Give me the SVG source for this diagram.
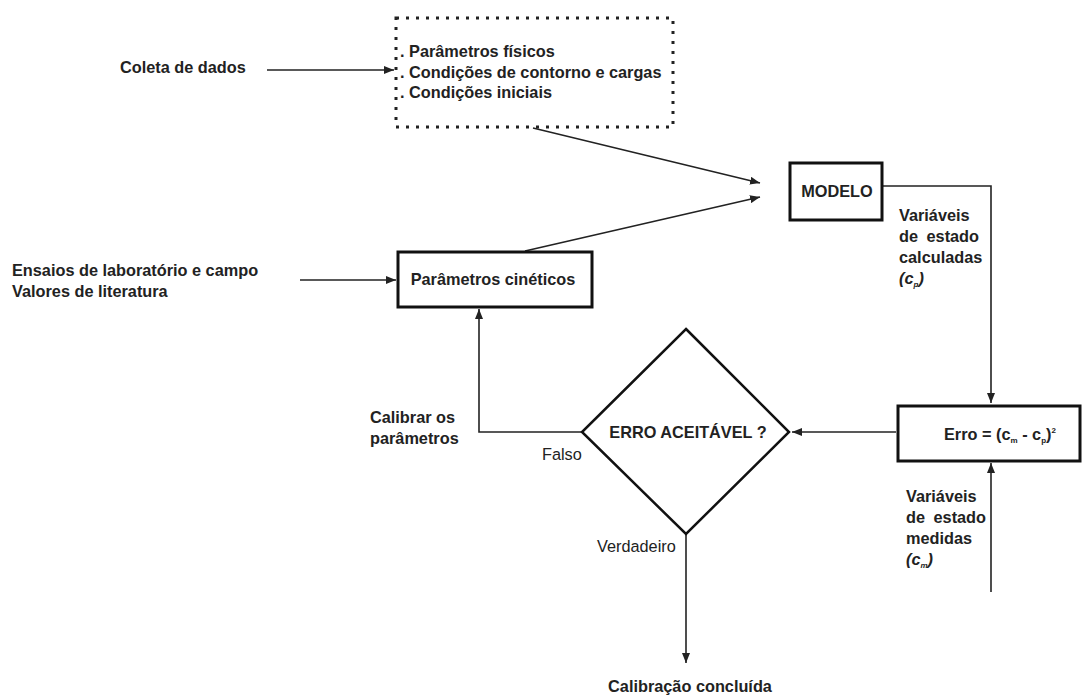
<svg xmlns="http://www.w3.org/2000/svg" width="1083" height="695" viewBox="0 0 1083 695">
  <style>
    .t { font-family: "Liberation Sans", Arial, sans-serif; font-size: 16.3px; font-weight: bold; fill: #222; }
    .n { font-family: "Liberation Sans", Arial, sans-serif; font-size: 16.3px; fill: #222; }
    .box { fill: #fff; stroke: #111; stroke-width: 3; }
    .dots { fill: none; stroke: #222; stroke-width: 3; stroke-dasharray: 3 7; }
    .edge { fill: none; stroke: #222; stroke-width: 1.6; }
  </style>
  <defs>
    <marker id="arr" viewBox="0 0 10 8" refX="10" refY="4" markerWidth="10" markerHeight="8" markerUnits="userSpaceOnUse" orient="auto">
      <path d="M0,0 L10,4 L0,8 z" fill="#222"/>
    </marker>
  </defs>
  <rect width="1083" height="695" fill="#fff"/>

  <!-- connectors -->
  <g id="connectors">
    <line class="edge" x1="267" y1="70" x2="394" y2="70" marker-end="url(#arr)"/>
    <line class="edge" x1="533" y1="128" x2="760" y2="183" marker-end="url(#arr)"/>
    <line class="edge" x1="525" y1="251" x2="760" y2="197" marker-end="url(#arr)"/>
    <line class="edge" x1="300" y1="280" x2="396" y2="280" marker-end="url(#arr)"/>
    <polyline class="edge" points="883,186 991,186 991,403" marker-end="url(#arr)"/>
    <line class="edge" x1="896" y1="432" x2="792" y2="432" marker-end="url(#arr)"/>
    <line class="edge" x1="991" y1="592" x2="991" y2="463" marker-end="url(#arr)"/>
    <polyline class="edge" points="582,432 479,432 479,309" marker-end="url(#arr)"/>
    <line class="edge" x1="686" y1="534" x2="686" y2="663" marker-end="url(#arr)"/>
  </g>

  <!-- free labels -->
  <g id="labels">
    <text class="t" x="120" y="73">Coleta de dados</text>
    <text class="t" x="12" y="276">Ensaios de laboratório e campo</text>
    <text class="t" x="12" y="297">Valores de literatura</text>
    <text class="t" x="899" y="221">Variáveis</text>
    <text class="t" x="899" y="242" word-spacing="4">de estado</text>
    <text class="t" x="899" y="263">calculadas</text>
    <text class="t" x="899" y="284" font-style="italic">(c<tspan font-size="8" dy="3">p</tspan><tspan dy="-3">)</tspan></text>
    <text class="t" x="906" y="502">Variáveis</text>
    <text class="t" x="906" y="523" word-spacing="4">de estado</text>
    <text class="t" x="906" y="544">medidas</text>
    <text class="t" x="906" y="565" font-style="italic">(c<tspan font-size="8" dy="3">m</tspan><tspan dy="-3">)</tspan></text>
    <text class="t" x="370" y="423">Calibrar os</text>
    <text class="t" x="370" y="444">parâmetros</text>
    <text class="n" x="542" y="460">Falso</text>
    <text class="n" x="597" y="552">Verdadeiro</text>
    <text class="t" x="690" y="692" text-anchor="middle">Calibração concluída</text>
  </g>

  <!-- nodes -->
  <g id="dados">
    <rect class="dots" x="396" y="18" width="277" height="109"/>
    <text class="t" x="400" y="57">. Parâmetros físicos</text>
    <text class="t" x="400" y="78">. Condições de contorno e cargas</text>
    <text class="t" x="400" y="98">. Condições iniciais</text>
  </g>
  <g id="modelo">
    <rect class="box" x="790" y="163" width="92" height="57"/>
    <text class="t" x="837" y="197" text-anchor="middle">MODELO</text>
  </g>
  <g id="parametros">
    <rect class="box" x="398" y="252" width="194" height="55"/>
    <text class="t" x="493" y="285" text-anchor="middle">Parâmetros cinéticos</text>
  </g>
  <g id="decisao">
    <polygon points="686,329 789,432 686,534 582,432" fill="#fff" stroke="#111" stroke-width="2.5"/>
    <text class="t" x="688" y="438" text-anchor="middle">ERRO ACEITÁVEL ?</text>
  </g>
  <g id="erro">
    <rect class="box" x="898" y="406" width="182" height="55"/>
    <text class="t" x="944" y="440">Erro = (c<tspan font-size="8" dy="3">m</tspan><tspan dy="-3"> - c</tspan><tspan font-size="8" dy="3">p</tspan><tspan dy="-3">)</tspan><tspan font-size="8" dy="-7">2</tspan></text>
  </g>
</svg>
